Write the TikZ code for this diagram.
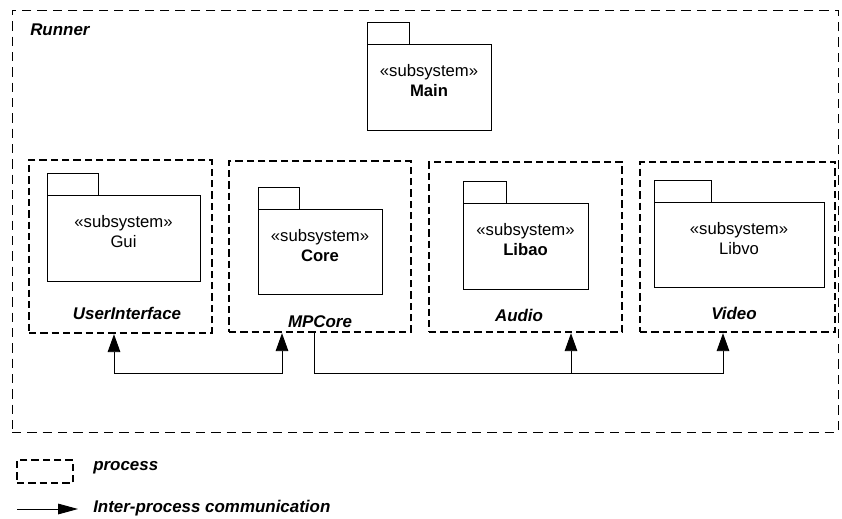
\documentclass[tikz,border=0pt]{standalone}
\usepackage{fontspec}
\setmainfont{Liberation Sans}
\usetikzlibrary{arrows.meta,fit}

\tikzset{
  runner/.style={draw, line width=0.6pt, dash pattern=on 7pt off 4.5pt, inner sep=0pt},
  process/.style={draw, line width=1.8pt, dash pattern=on 5.5pt off 3pt, inner sep=0pt},
  pkg/.style={draw, line width=0.6pt, inner sep=0pt, align=center, font=\fontsize{12.5}{15}\selectfont},
  pkgtab/.style={draw, line width=0.6pt, inner sep=0pt},
  ipc/.style={line width=0.7pt, -{Triangle[length=13.5pt,width=9.5pt]}},
  lbl/.style={font=\fontsize{12.7}{14}\selectfont\bfseries\itshape, inner sep=0pt},
}

\begin{document}
\begin{tikzpicture}[x=0.75pt,y=-0.75pt]
\useasboundingbox (0,0) rectangle (842,518);

% outer process
\node[runner, fit={(12,10) (838,432)}] (runner) {};
\node[lbl, anchor=west] (runnerlbl) at (30,30) {Runner};

% Main
\node[pkgtab, fit={(367,22) (409,44)}] (maintab) {};
\node[pkg, fit={(367,44) (491,130)}] (main) {«subsystem»\\\textbf{Main}};

% process boxes
\node[process, fit={(29,160) (212,333)}] (ui) {};
\node[process, fit={(229,161) (411,332)}] (mpcore) {};
\node[process, fit={(429,162) (622,332)}] (audio) {};
\node[process, fit={(640,162) (835,332)}] (video) {};

\node[lbl] (uilbl) at (127,313) {UserInterface};
\node[lbl] (mpcorelbl) at (320,322) {MPCore};
\node[lbl] (audiolbl) at (519,315) {Audio};
\node[lbl] (videolbl) at (734,313) {Video};

% subsystems
\node[pkgtab, fit={(47,173) (98,195)}] (guitab) {};
\node[pkg, fit={(47,195) (200,281)}] (gui) {«subsystem»\\Gui};

\node[pkgtab, fit={(258,187) (299,209)}] (coretab) {};
\node[pkg, fit={(258,209) (382,294)}] (core) {«subsystem»\\\textbf{Core}};

\node[pkgtab, fit={(463,181) (506,203)}] (libaotab) {};
\node[pkg, fit={(463,203) (588,289)}] (libao) {«subsystem»\\\textbf{Libao}};

\node[pkgtab, fit={(654,180) (711,202)}] (libvotab) {};
\node[pkg, fit={(654,202) (824,287)}] (libvo) {«subsystem»\\Libvo};

% communication
\coordinate (l1) at (114,373);
\coordinate (l2) at (282,373);
\coordinate (r1) at (314,373);
\coordinate (r2) at (571,373);
\coordinate (r3) at (723,373);

\draw[ipc, {Triangle[length=13.5pt,width=9.5pt]}-{Triangle[length=13.5pt,width=9.5pt]}]
  (ui.south -| l1) -- (l1) -- (l2) -- (mpcore.south -| l2);
\draw[ipc] (mpcore.south -| r1) -- (r1) -- (r3) -- (video.south -| r3);
\draw[ipc] (r2) -- (audio.south -| r2);

% legend
\node[process, fit={(17,460) (73,483)}] (legbox) {};
\node[lbl, anchor=west] (legproc) at (93,468) {process};
\coordinate (arra) at (17,509);
\coordinate (arrb) at (78,509);
\draw[ipc, -{Triangle[length=15pt,width=8pt]}] (arra) -- (arrb);
\node[lbl, anchor=west] (legipc) at (93,508) {Inter-process communication};
\end{tikzpicture}
\end{document}
